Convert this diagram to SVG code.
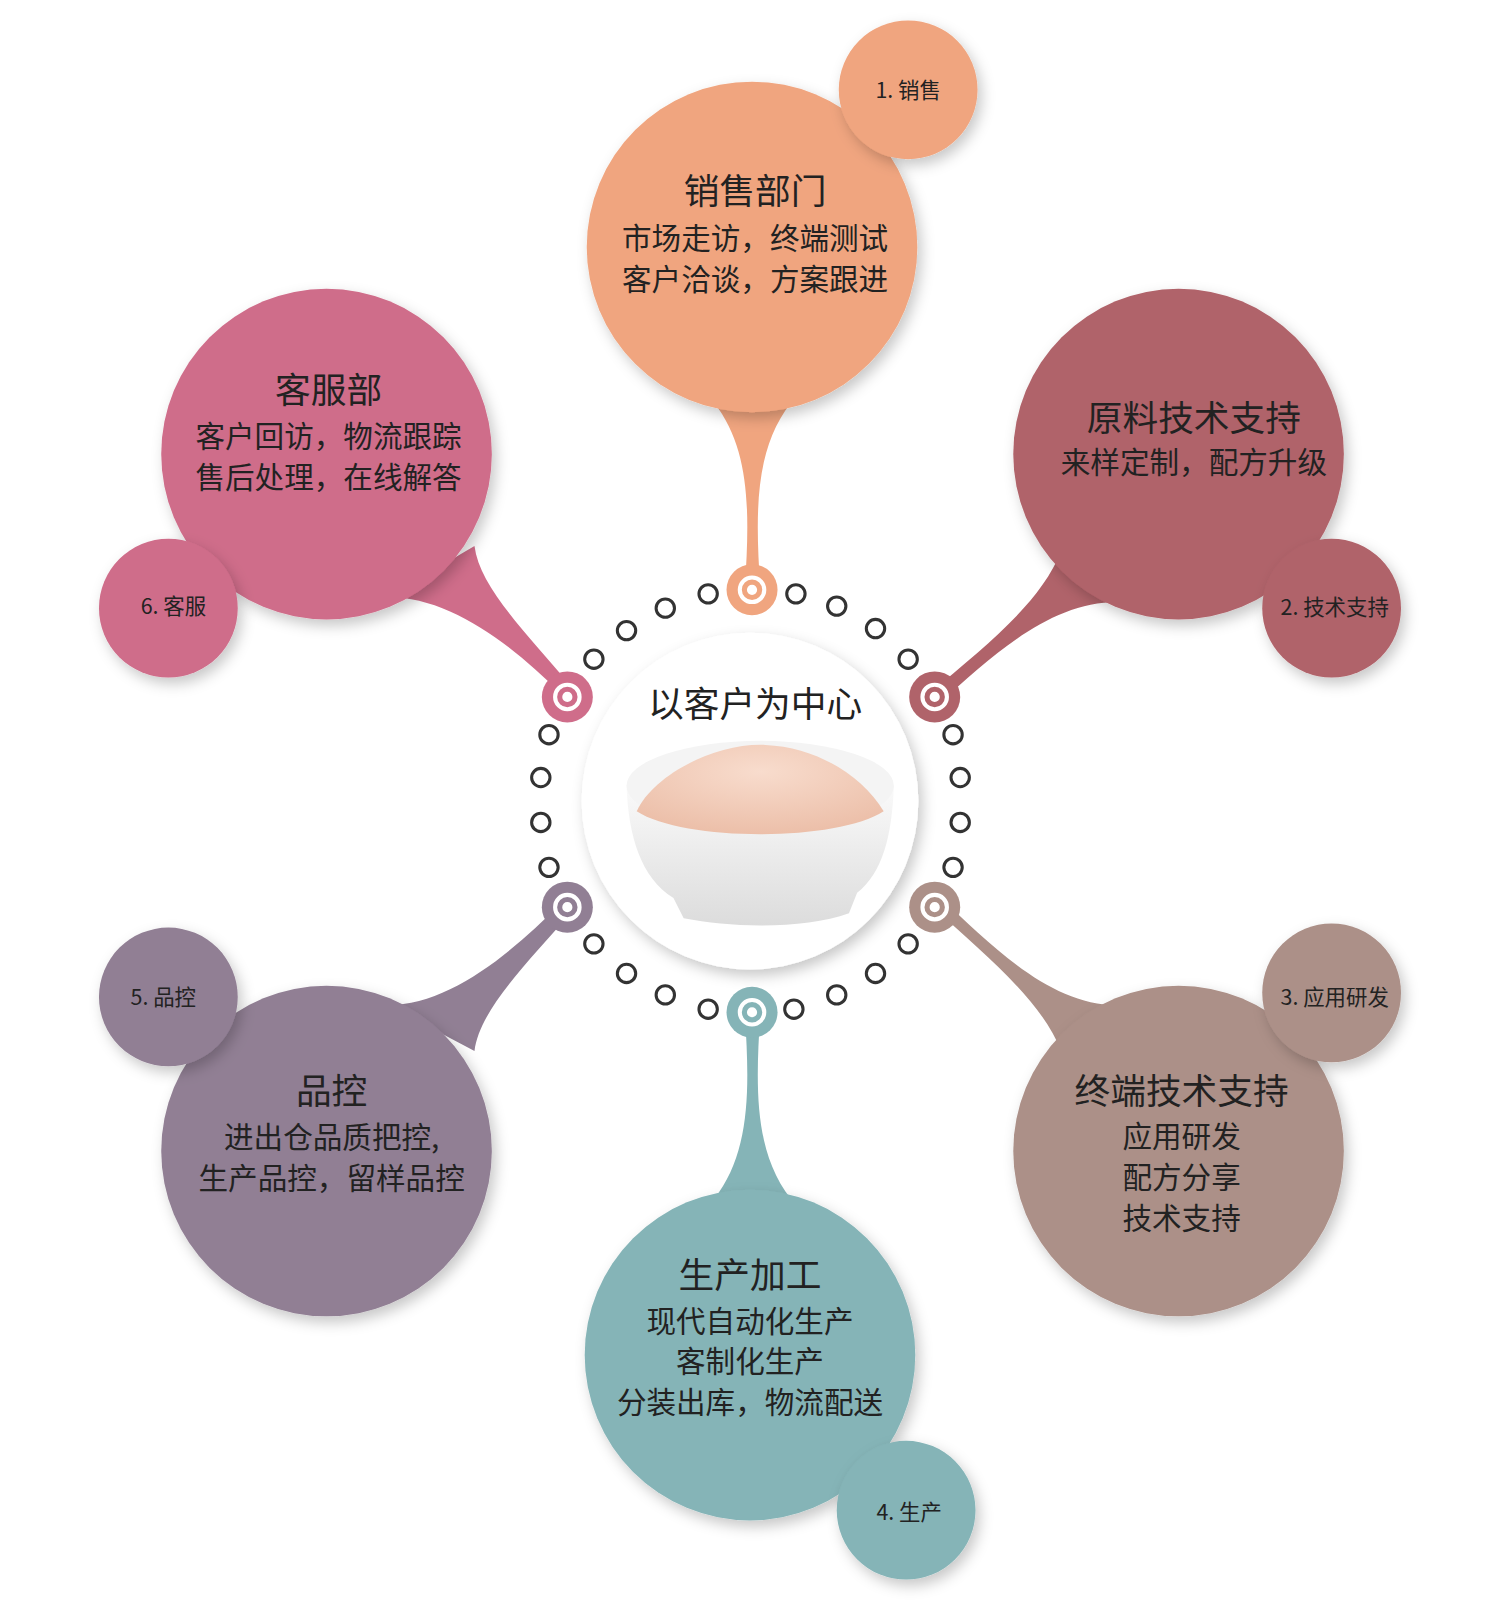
<svg xmlns="http://www.w3.org/2000/svg" width="1500" height="1600" viewBox="0 0 1500 1600">
<defs>
<filter id="sh" x="-20%" y="-20%" width="140%" height="140%"><feDropShadow dx="4" dy="6" stdDeviation="7" flood-color="#000" flood-opacity="0.22"/></filter>
<radialGradient id="pw" cx="0.5" cy="0.3" r="0.7"><stop offset="0" stop-color="#f8dccd"/><stop offset="1" stop-color="#ecbfa9"/></radialGradient>
<linearGradient id="bw" x1="0" y1="0" x2="0" y2="1"><stop offset="0" stop-color="#fafafa"/><stop offset="1" stop-color="#dcdcdc"/></linearGradient>
</defs>
<style>
text{font-family:"Noto Sans CJK SC","Liberation Sans",sans-serif;fill:#222;text-anchor:middle}
.t{font-size:35px}.b{font-size:29px}.s{font-size:21px}
.dot{fill:#fff;stroke:#333;stroke-width:3}
</style>
<rect width="1500" height="1600" fill="#fff"/>
<g transform="scale(1.0204)">
<g id="connectors">
<path d="M700,395 C735,440 735,500 730,575 L745,575 C740,500 740,440 775,395 Z" fill="#F0A57F"/>
<path d="M1040,540 C1020,590 970,630 910,680 L920,690 C975,640 1030,590 1095,590 Z" fill="#B0636A"/>
<path d="M1040,1030 C1020,980 970,940 910,885 L920,878 C975,930 1030,985 1095,985 Z" fill="#AC9088"/>
<path d="M700,1175 C735,1130 735,1070 730,995 L745,995 C740,1070 740,1130 775,1175 Z" fill="#85B4B7"/>
<path d="M380,985 C440,985 500,935 550,885 L562,892 C515,945 470,990 465,1030 Z" fill="#917F94"/>
<path d="M380,585 C440,585 500,630 550,680 L562,675 C515,620 470,575 465,535 Z" fill="#CF6D8A"/>
</g>
<g id="ring">
<circle class="dot" cx="694" cy="582" r="9"/><circle class="dot" cx="780" cy="582" r="9"/>
<circle class="dot" cx="652" cy="596" r="9"/><circle class="dot" cx="820" cy="594" r="9"/>
<circle class="dot" cx="614" cy="618" r="9"/><circle class="dot" cx="858" cy="616" r="9"/>
<circle class="dot" cx="582" cy="646" r="9"/><circle class="dot" cx="890" cy="646" r="9"/>
<circle class="dot" cx="538" cy="720" r="9"/><circle class="dot" cx="934" cy="720" r="9"/>
<circle class="dot" cx="530" cy="762" r="9"/><circle class="dot" cx="941" cy="762" r="9"/>
<circle class="dot" cx="530" cy="806" r="9"/><circle class="dot" cx="941" cy="806" r="9"/>
<circle class="dot" cx="538" cy="850" r="9"/><circle class="dot" cx="934" cy="850" r="9"/>
<circle class="dot" cx="582" cy="925" r="9"/><circle class="dot" cx="890" cy="925" r="9"/>
<circle class="dot" cx="614" cy="954" r="9"/><circle class="dot" cx="858" cy="954" r="9"/>
<circle class="dot" cx="652" cy="975" r="9"/><circle class="dot" cx="820" cy="975" r="9"/>
<circle class="dot" cx="694" cy="989" r="9"/><circle class="dot" cx="778" cy="989" r="9"/>
<g stroke-width="4" fill="none">
<circle cx="737" cy="578" r="25" fill="#F0A57F" stroke="none"/><circle cx="737" cy="578" r="12" stroke="#fff"/><circle cx="737" cy="578" r="7" stroke="#F0A57F" fill="#fff"/>
<circle cx="916" cy="683" r="25" fill="#B0636A" stroke="none"/><circle cx="916" cy="683" r="12" stroke="#fff"/><circle cx="916" cy="683" r="7" stroke="#B0636A" fill="#fff"/>
<circle cx="916" cy="889" r="25" fill="#AC9088" stroke="none"/><circle cx="916" cy="889" r="12" stroke="#fff"/><circle cx="916" cy="889" r="7" stroke="#AC9088" fill="#fff"/>
<circle cx="737" cy="992" r="25" fill="#85B4B7" stroke="none"/><circle cx="737" cy="992" r="12" stroke="#fff"/><circle cx="737" cy="992" r="7" stroke="#85B4B7" fill="#fff"/>
<circle cx="556" cy="889" r="25" fill="#917F94" stroke="none"/><circle cx="556" cy="889" r="12" stroke="#fff"/><circle cx="556" cy="889" r="7" stroke="#917F94" fill="#fff"/>
<circle cx="556" cy="683" r="25" fill="#CF6D8A" stroke="none"/><circle cx="556" cy="683" r="12" stroke="#fff"/><circle cx="556" cy="683" r="7" stroke="#CF6D8A" fill="#fff"/>
</g>
</g>
<g id="center">
<circle cx="735" cy="785" r="165" fill="#fff" filter="url(#sh)"/>
<text x="740" y="703" class="t">以客户为中心</text>
<path d="M614,770 C616,820 628,860 660,880 L670,900 C720,910 790,910 832,895 L840,875 C865,855 874,820 876,770 Z" fill="url(#bw)"/>
<ellipse cx="745" cy="770" rx="131" ry="44" fill="#f4f4f4"/>
<path d="M624,795 C640,760 700,728 750,730 C800,732 845,760 866,795 C820,825 670,825 624,795 Z" fill="url(#pw)"/>
</g>
<g id="sales">
<circle cx="737" cy="242" r="162" fill="#F0A57F" filter="url(#sh)"/>
<circle cx="890" cy="88" r="68" fill="#F0A57F" filter="url(#sh)"/>
<text x="890" y="96" class="s">1. 销售</text>
<text x="740" y="200" class="t">销售部门</text>
<text x="740" y="244" class="b">市场走访，终端测试</text>
<text x="740" y="284" class="b">客户洽谈，方案跟进</text>
</g>
<g id="tech">
<circle cx="1155" cy="445" r="162" fill="#B0636A" filter="url(#sh)"/>
<circle cx="1305" cy="596" r="68" fill="#B0636A" filter="url(#sh)"/>
<text x="1308" y="603" class="s">2. 技术支持</text>
<text x="1170" y="422" class="t">原料技术支持</text>
<text x="1170" y="464" class="b">来样定制，配方升级</text>
</g>
<g id="terminal">
<circle cx="1155" cy="1128" r="162" fill="#AC9088" filter="url(#sh)"/>
<circle cx="1305" cy="973" r="68" fill="#AC9088" filter="url(#sh)"/>
<text x="1308" y="985" class="s">3. 应用研发</text>
<text x="1158" y="1082" class="t">终端技术支持</text>
<text x="1158" y="1124" class="b">应用研发</text>
<text x="1158" y="1164" class="b">配方分享</text>
<text x="1158" y="1204" class="b">技术支持</text>
</g>
<g id="production">
<circle cx="735" cy="1328" r="162" fill="#85B4B7" filter="url(#sh)"/>
<circle cx="888" cy="1480" r="68" fill="#85B4B7" filter="url(#sh)"/>
<text x="891" y="1490" class="s">4. 生产</text>
<text x="735" y="1262" class="t">生产加工</text>
<text x="735" y="1305" class="b">现代自动化生产</text>
<text x="735" y="1345" class="b">客制化生产</text>
<text x="735" y="1385" class="b">分装出库，物流配送</text>
</g>
<g id="qc">
<circle cx="320" cy="1128" r="162" fill="#917F94" filter="url(#sh)"/>
<circle cx="165" cy="977" r="68" fill="#917F94" filter="url(#sh)"/>
<text x="160" y="985" class="s">5. 品控</text>
<text x="325" y="1082" class="t">品控</text>
<text x="325" y="1125" class="b">进出仓品质把控,</text>
<text x="325" y="1165" class="b">生产品控，留样品控</text>
</g>
<g id="service">
<circle cx="320" cy="445" r="162" fill="#CF6D8A" filter="url(#sh)"/>
<circle cx="165" cy="596" r="68" fill="#CF6D8A" filter="url(#sh)"/>
<text x="170" y="602" class="s">6. 客服</text>
<text x="322" y="395" class="t">客服部</text>
<text x="322" y="438" class="b">客户回访，物流跟踪</text>
<text x="322" y="478" class="b">售后处理，在线解答</text>
</g>
</g>
</svg>
